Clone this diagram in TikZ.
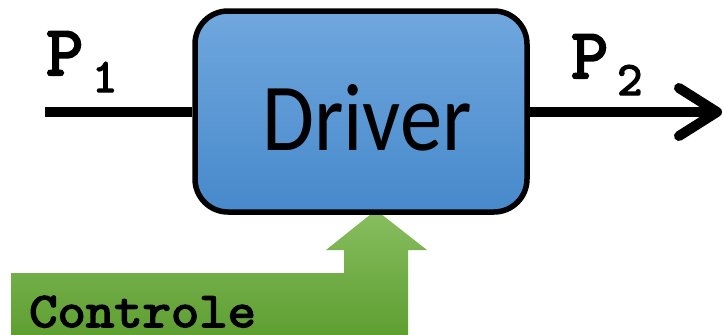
\documentclass[tikz,border=0pt]{standalone}
\usepackage{fontspec}
\setmainfont{Carlito}
\newfontfamily\monob{lmmono10-regular.otf}[FakeBold=3]
\definecolor{bluetop}{HTML}{70A7DE}
\definecolor{bluebot}{HTML}{4789CB}
\definecolor{greentop}{HTML}{88BE60}
\definecolor{greenbot}{HTML}{5E9F31}
\tikzset{
  drvbox/.style={draw=black, line width=5.5pt, rounded corners=33pt,
    top color=bluetop, bottom color=bluebot,
    minimum width=332pt, minimum height=201pt, inner sep=0pt},
  sigline/.style={line width=10pt},
  chevron/.style={line width=10pt, line cap=round, line join=round},
  plabel/.style={anchor=base west, inner sep=0pt, font=\monob\fontsize{71}{71}\selectfont},
  psub/.style={anchor=base west, inner sep=0pt, font=\monob\fontsize{48}{48}\selectfont},
  ctltext/.style={anchor=base west, inner sep=0pt, font=\monob\fontsize{50}{50}\selectfont}
}
\begin{document}
\begin{tikzpicture}[x=1pt,y=-1pt]
\useasboundingbox (0,0) rectangle (724,335);
% green control arrow (behind the box)
\shade[top color=greentop, bottom color=greenbot]
  (11,335) -- (11,273) -- (344,273) -- (344,250) -- (326,250) -- (376,210)
  -- (427,250) -- (408,250) -- (408,335) -- cycle;
\node[ctltext] (ctl) at (29,327) {\scalebox{1.08}[1]{Controle}};
% driver box
\node[drvbox] (drv) at (361,111.5) {};
\node[anchor=base, inner sep=0pt] (drvtxt) at (367,150)
  {\scalebox{0.88}[1]{\fontsize{96}{96}\selectfont Driver}};
% input
\coordinate (in) at (45,112);
\draw[sigline] (in) -- (drv.west |- in);
% output
\coordinate (out) at (717,112);
\draw[sigline] (drv.east |- out) -- (out);
\draw[chevron] ([xshift=-38pt,yshift=-24pt]out) -- (out) -- ([xshift=-38pt,yshift=24pt]out);
% labels
\node[plabel] (p1) at (46,75) {P};
\node[psub] (p1s) at (92,92) {1};
\node[plabel] (p2) at (571,78) {P};
\node[psub] (p2s) at (617,95) {2};
\end{tikzpicture}
\end{document}
